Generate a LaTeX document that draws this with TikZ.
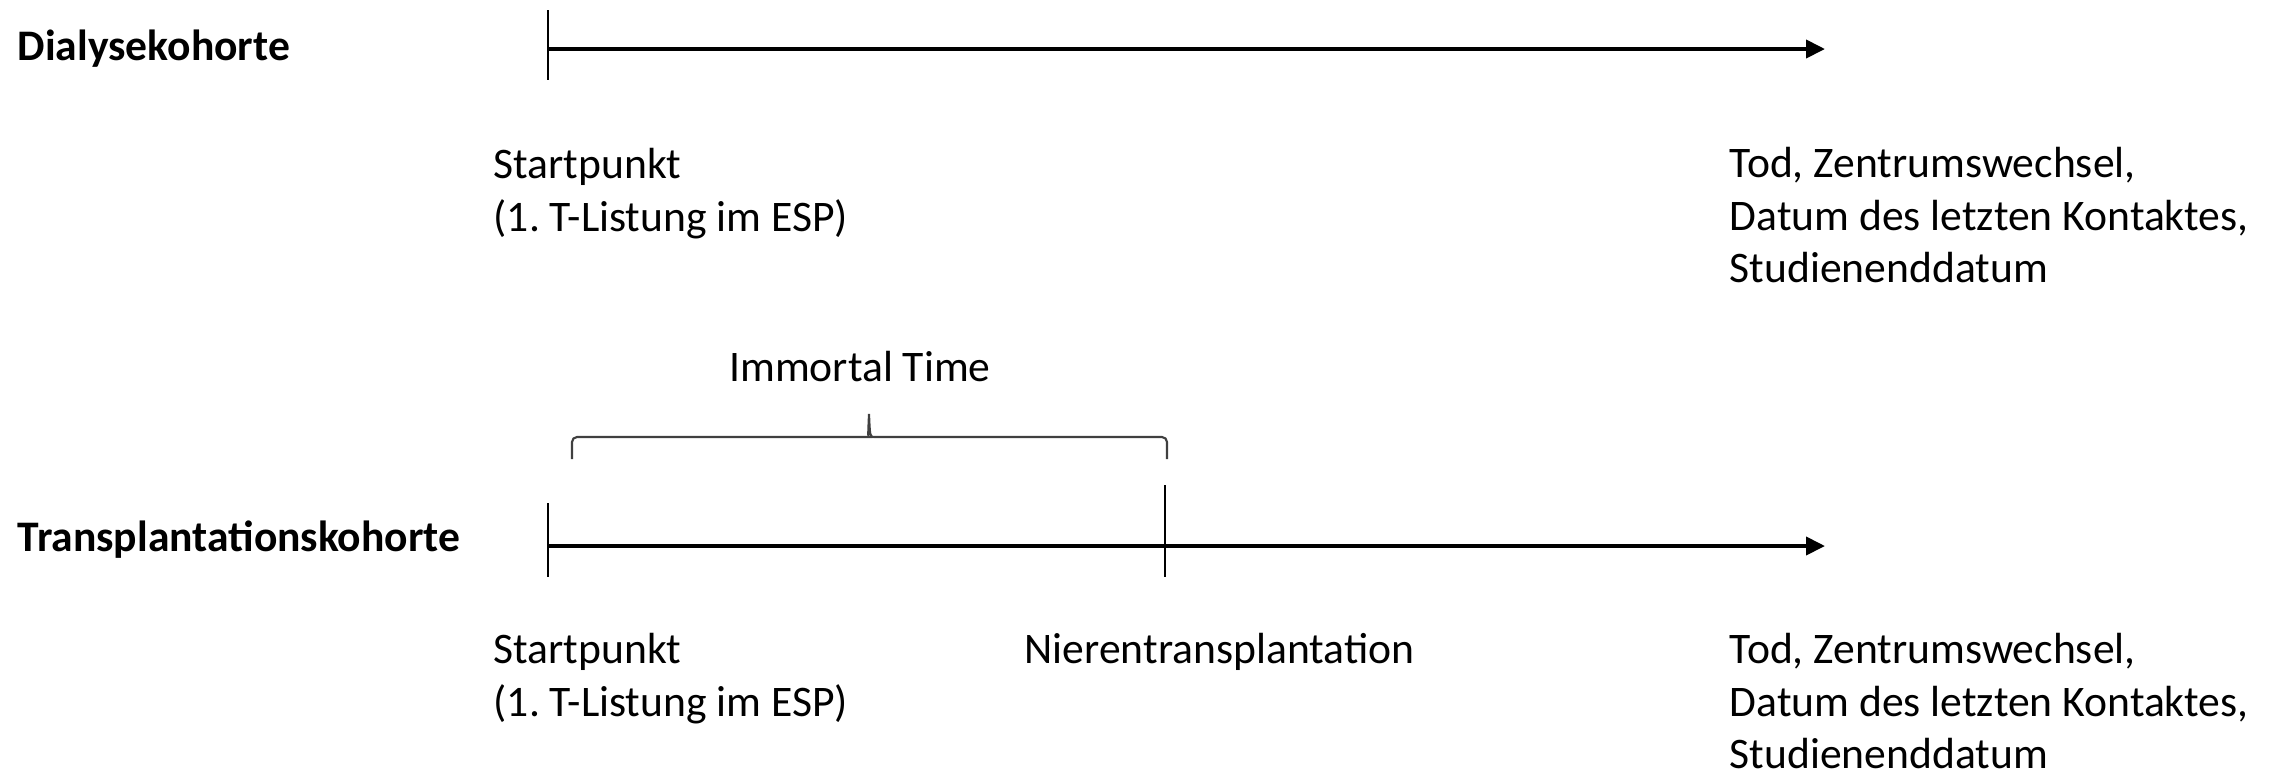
\documentclass[tikz,border=0pt]{standalone}
\usepackage{fontspec}
\setmainfont{Carlito}
\frenchspacing
\usetikzlibrary{arrows.meta}
\tikzset{
  every picture/.style={x=0.01cm, y=-0.01cm},
  cohort/.style={font=\fontsize{12.4}{14.8}\selectfont\bfseries, anchor=base west, inner sep=0pt},
  note/.style={font=\fontsize{12.4}{14.8}\selectfont, align=left, anchor=north west, inner sep=0pt},
  timeline/.style={-{Triangle[length=5.4pt, width=5.1pt]}, line width=1.15pt},
  markline/.style={line width=0.6pt},
  span/.style={line width=0.6pt, draw=black!75},
}

\begin{document}
\begin{tikzpicture}
  \useasboundingbox (0,0) rectangle (2284,775);
  % Dialysekohorte
  \node[cohort] (dialyse) at (17,60) {Dialysekohorte};
  \coordinate (dstart) at (548,49);
  \coordinate (dend) at (1825,49);
  \draw[timeline] (dstart) -- (dend);
  \draw[markline] (dstart) ++(0,-39) -- ++(0,70);
  \node[note] (dstartlbl) at (493,148) {Startpunkt\\(1. T-Listung im ESP)};
  \node[note] (dendlbl) at (1729,147) {Tod, Zentrumswechsel,\\Datum des letzten Kontaktes,\\Studienenddatum};
  % Transplantationskohorte
  \node[cohort] (transpl) at (17,551) {Transplantationskohorte};
  \coordinate (tstart) at (548,546);
  \coordinate (ntx) at (1165,546);
  \coordinate (tend) at (1825,546);
  \draw[timeline] (tstart) -- (tend);
  \draw[markline] (tstart) ++(0,-43) -- ++(0,74);
  \draw[markline] (ntx) ++(0,-61) -- ++(0,92);
  % brace over the immortal time
  \coordinate (imstart) at (572,459);
  \coordinate (imend) at (1167,459);
  \draw[span] (imstart) [rounded corners=0.05cm] |- (864,437) [sharp corners]
    .. controls (868,437) .. (869,414) .. controls (870,437) .. (874,437)
    [rounded corners=0.05cm] -| (imend);
  \node[note, anchor=center] (immortal) at (860,367) {Immortal Time};
  \node[note] (tstartlbl) at (493,633) {Startpunkt\\(1. T-Listung im ESP)};
  \node[note] (ntxlbl) at (1024,633) {Nierentransplantation};
  \node[note] (tendlbl) at (1729,633) {Tod, Zentrumswechsel,\\Datum des letzten Kontaktes,\\Studienenddatum};
\end{tikzpicture}
\end{document}
